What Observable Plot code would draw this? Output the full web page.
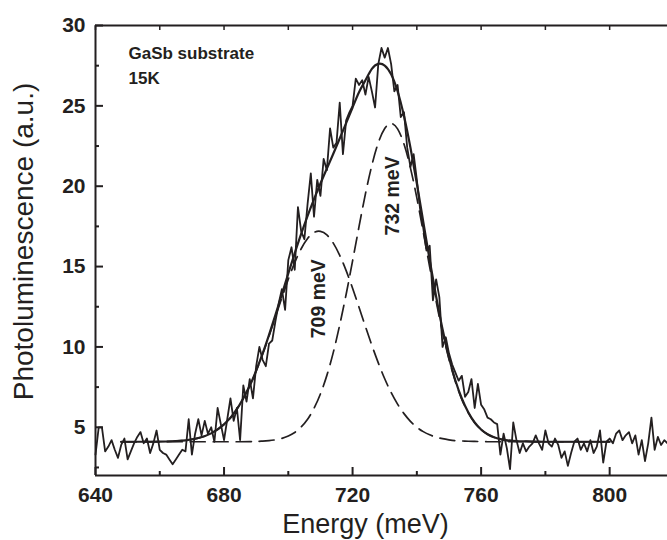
<!DOCTYPE html>
<html><head><meta charset="utf-8">
<script src="https://cdn.jsdelivr.net/npm/d3@7"></script>
<script src="https://cdn.jsdelivr.net/npm/@observablehq/plot@0.6"></script>
<style>html,body{margin:0;padding:0;background:#fff;} #chart svg{display:block;}</style>
</head><body><div id="chart"></div>
<script>
// Measured photoluminescence, one value per meV starting at 640 meV
const energyStart = 640;
const energyStep = 1;
const plValues = [
  3.3, 5.0, 5.0, 3.5, 3.8, 4.2, 3.6, 3.1, 3.9, 4.3,
  3.0, 3.5, 4.0, 4.4, 4.7, 4.0, 4.3, 3.4, 4.0, 4.8,
  3.6, 3.4, 3.3, 3.0, 2.7, 3.0, 3.3, 3.6, 3.5, 5.5,
  3.3, 4.6, 5.5, 4.5, 5.4, 4.6, 5.0, 4.1, 6.2, 5.2,
  4.2, 5.5, 6.8, 5.4, 6.2, 4.2, 7.6, 6.6, 8.0, 6.8,
  8.8, 10.0, 9.2, 8.8, 10.2, 10.4, 11.6, 12.7, 13.6, 12.3,
  15.4, 16.2, 14.8, 18.7, 17.2, 16.7, 18.9, 20.8, 18.1, 20.4,
  19.4, 21.7, 21.0, 23.6, 22.4, 22.7, 25.2, 22.0, 24.1, 24.6,
  25.0, 26.7, 26.3, 26.6, 25.7, 26.8, 25.9, 24.9, 27.6, 28.6,
  28.0, 28.6, 27.6, 25.9, 26.3, 24.3, 24.6, 22.4, 21.2, 22.0,
  20.4, 18.6, 17.4, 16.0, 16.3, 12.9, 14.2, 13.1, 10.0, 10.6,
  9.6, 8.9, 8.4, 7.9, 8.2, 6.9, 7.2, 8.0, 6.2, 7.7,
  6.4, 6.1, 5.6, 5.5, 5.3, 5.2, 3.3, 4.6, 3.7, 2.4,
  5.3, 4.2, 3.4, 4.0, 3.5, 3.8, 4.0, 4.5, 4.0, 3.6,
  4.8, 4.0, 3.8, 4.3, 3.9, 3.1, 3.5, 2.6, 3.4, 4.1,
  4.3, 3.6, 4.0, 3.5, 4.2, 3.4, 3.8, 4.8, 2.8, 4.1,
  4.3, 4.0, 4.6, 4.8, 4.2, 4.5, 4.7, 4.0, 4.5, 3.3,
  4.2, 2.9, 4.0, 5.6, 3.6, 4.4, 3.9, 4.2, 4.0
];

// Fitted curves
const fitEnergy = [648,652,656,660,664,668,672,676,680,684,688,
  690,692,694,696,698,700,702,704,706,708,710,712,714,716,718,720,722,724,726,728,730,
  732,734,736,738,740,742,744,746,748,750,752,754,756,758,760,762,764,766,768,770,772,
  776,780,790,800];
const fitTotal = [4.10,4.10,4.10,4.11,4.13,4.19,4.33,4.62,5.18,6.13,7.59,
  8.52,9.58,10.75,11.99,13.27,14.58,15.83,17.03,18.15,19.20,20.17,21.10,22.02,22.97,23.93,24.90,25.85,26.59,27.30,27.61,27.51,
  26.96,25.91,24.37,22.41,20.17,17.78,15.40,13.14,11.10,9.35,7.91,6.79,5.93,5.30,4.86,4.57,4.38,4.26,4.19,4.15,4.13,
  4.11,4.10,4.10,4.10];
const fitPeak709 = [4.10,4.10,4.10,4.11,4.13,4.19,4.33,4.62,5.18,6.13,7.58,
  8.50,9.54,10.68,11.87,13.06,14.22,15.25,16.11,16.75,17.12,17.19,16.97,16.46,15.70,14.75,13.65,12.47,11.27,10.10,9.01,8.02,
  7.16,6.44,5.85,5.37,5.00,4.73,4.53,4.39,4.29,4.22,4.17,4.15,4.13,4.12,4.11,4.10,4.10,4.10,4.10,4.10,4.10,
  4.10,4.10,4.10,4.10];
const fitPeak732 = [4.10,4.10,4.10,4.10,4.10,4.10,4.10,4.10,4.10,4.10,4.11,
  4.12,4.14,4.17,4.22,4.31,4.46,4.68,5.02,5.50,6.18,7.08,8.23,9.66,11.37,13.28,15.35,17.48,19.52,21.30,22.70,23.59,
  23.90,23.57,22.62,21.14,19.27,17.15,14.97,12.85,10.91,9.23,7.84,6.74,5.90,5.28,4.85,4.57,4.38,4.26,4.19,4.15,4.13,
  4.11,4.10,4.10,4.10];

const peakLabels = ["709 meV", "732 meV"];
const peakLabelEnergy = [709.5, 732.5];
const peakLabelLevel = [13.0, 19.4];
const sampleNotes = ["GaSb substrate", "15K"];

const xMajorTicks = [640, 680, 720, 760, 800];
const xMinorTicks = [660, 700, 740, 780];
const yMajorTicks = [5, 10, 15, 20, 25, 30];
const yMinorTicks = [2.5, 7.5, 12.5, 17.5, 22.5, 27.5];
const xDomain = [640, 818];
const yDomain = [2, 30];
const xTitle = "Energy (meV)";
const yTitle = "Photoluminescence (a.u.)";

const measured = plValues.map((v, i) => ({e: energyStart + i * energyStep, v}));
const fit = fitEnergy.map((e, i) => ({e, total: fitTotal[i], p1: fitPeak709[i], p2: fitPeak732[i]}));
const ink = "#231f20";

const chart = Plot.plot({
  width: 667, height: 540,
  marginLeft: 95, marginRight: 0, marginTop: 25, marginBottom: 65,
  style: {fontFamily: "Arial, 'Liberation Sans', sans-serif", color: ink, background: "#fff"},
  x: {domain: xDomain},
  y: {domain: yDomain},
  marks: [
    Plot.line(fit, {x: "e", y: "p1", stroke: ink, strokeWidth: 1.7, strokeDasharray: "15,8", curve: "natural"}),
    Plot.line(fit, {x: "e", y: "p2", stroke: ink, strokeWidth: 1.7, strokeDasharray: "15,8", curve: "natural"}),
    Plot.line(measured, {x: "e", y: "v", stroke: ink, strokeWidth: 1.8}),
    Plot.line(fit, {x: "e", y: "total", stroke: ink, strokeWidth: 2.2, curve: "natural"}),
    Plot.ruleX([xDomain[0]], {stroke: ink, strokeWidth: 2}),
    Plot.ruleY([yDomain[0]], {stroke: ink, strokeWidth: 2}),
    Plot.ruleY([yDomain[1]], {stroke: ink, strokeWidth: 2}),
    Plot.axisX({ticks: xMajorTicks, tickSize: -8, tickPadding: 20, fontSize: 21, fontWeight: "bold", label: null, strokeWidth: 2, fill: ink, stroke: ink}),
    Plot.axisX({ticks: xMinorTicks, tickSize: -4, fill: "none", label: null, strokeWidth: 2, stroke: ink}),
    Plot.axisX({anchor: "top", ticks: [...xMajorTicks, ...xMinorTicks], tickSize: -4, fill: "none", label: null, strokeWidth: 1.5, stroke: ink}),
    Plot.axisY({ticks: yMajorTicks, tickSize: -8, tickPadding: 18, fontSize: 21, fontWeight: "bold", label: null, strokeWidth: 2, fill: ink, stroke: ink}),
    Plot.axisY({ticks: yMinorTicks, tickSize: -4, fill: "none", label: null, strokeWidth: 2, stroke: ink}),
    Plot.text([xTitle], {text: d => d, frameAnchor: "bottom", textAnchor: "middle", dx: -16, dy: 57, lineAnchor: "bottom", fontSize: 27, fill: ink}),
    Plot.text([yTitle], {text: d => d, frameAnchor: "left", textAnchor: "middle", lineAnchor: "middle", rotate: -90, dx: -71, dy: -9, fontSize: 28, fill: ink}),
    Plot.text([sampleNotes.join("\n")], {text: d => d, frameAnchor: "top-left", dx: 33, dy: 15, lineAnchor: "top", lineHeight: 1.5, fontSize: 17, fontWeight: "bold", textAnchor: "start", fill: ink}),
    Plot.text(peakLabels, {text: d => d, x: (d, i) => peakLabelEnergy[i], y: (d, i) => peakLabelLevel[i], rotate: -90, fontSize: 19.5, fontWeight: "bold", fill: ink})
  ]
});
document.getElementById("chart").appendChild(chart);
</script>
</body></html>
